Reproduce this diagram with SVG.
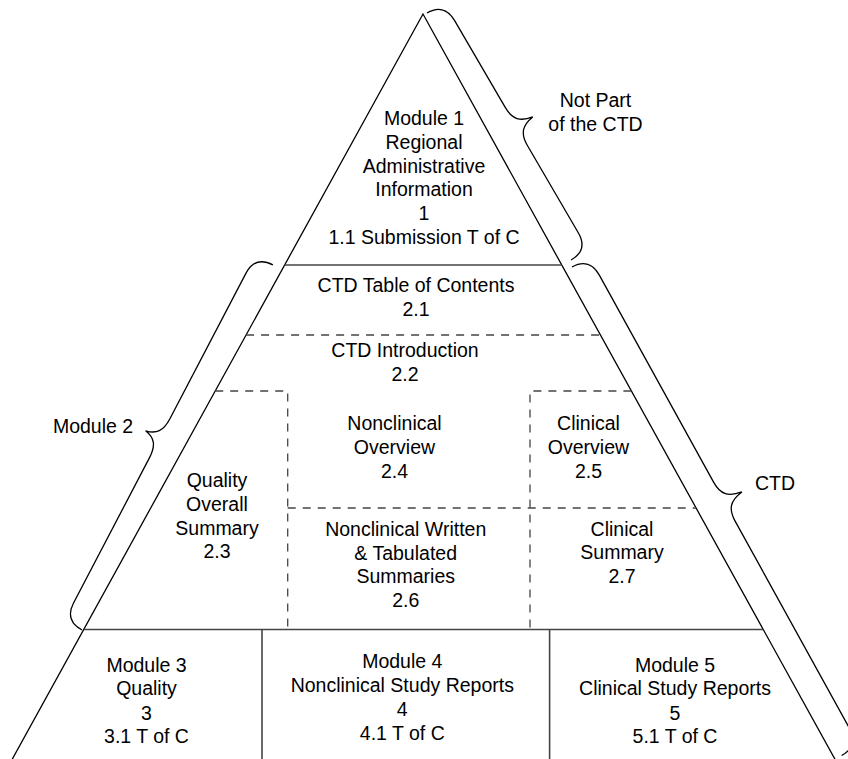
<svg xmlns="http://www.w3.org/2000/svg" width="848" height="759" viewBox="0 0 848 759">
<style>
text{font-family:"Liberation Sans",Arial,Helvetica,sans-serif;font-size:19.5px;fill:#000;text-anchor:middle}
.edge{fill:none;stroke:#000;stroke-width:1.3}
.solid{fill:none;stroke:#444;stroke-width:1.6}
.dash{fill:none;stroke:#444;stroke-width:1.3;stroke-dasharray:8 7}
.brace{fill:none;stroke:#000;stroke-width:1.3}
</style>
<rect width="848" height="759" fill="#fff"/>
<g id="connectors">
<path class="edge" d="M11.8,760 L423,14 L835.4,760"/>
<line class="solid" x1="284.6" y1="265" x2="561.8" y2="265"/>
<line class="dash" x1="246.1" y1="335" x2="600.4" y2="335"/>
<polyline class="dash" points="215.2,391 287.7,391 287.7,629"/>
<polyline class="dash" points="631.4,391 530,391 530,629"/>
<line class="dash" x1="287.7" y1="508" x2="696" y2="508"/>
<line class="solid" x1="84" y1="629.5" x2="763" y2="629.5"/>
<line class="solid" x1="262" y1="629.5" x2="262" y2="760"/>
<line class="solid" x1="549.6" y1="629.5" x2="549.6" y2="760"/>
<path class="brace" transform="translate(427,13) rotate(59.75)" d="M0,0 C0,-12 6,-20 20,-20 L121,-20 C135,-20 141,-26 143,-39 C145,-26 151,-20 165,-20 L266,-20 C280,-20 286,-12 286,0"/>
<path class="brace" transform="translate(82,630) rotate(-62.4)" d="M0,0 C0,-12 6,-20 20,-20 L184,-20 C198,-20 204,-25 206,-36 C208,-25 214,-20 228,-20 L392,-20 C406,-20 412,-12 412,0"/>
<path class="brace" transform="translate(572,267) rotate(61.1)" d="M0,0 C0,-12 6,-20 20,-20 L257,-20 C271,-20 277,-26 279,-40 C281,-26 287,-20 301,-20 L538,-20 C552,-20 558,-12 558,0"/>
</g>
<g id="module1">
<text x="424" y="125">Module 1</text>
<text x="424" y="148.8">Regional</text>
<text x="424" y="172.6">Administrative</text>
<text x="424" y="196.4">Information</text>
<text x="424" y="220.2">1</text>
<text x="424" y="244">1.1 Submission T of C</text>
</g>
<g id="not-part-label">
<text x="595.5" y="107.3">Not Part</text>
<text x="595.5" y="130.7">of the CTD</text>
</g>
<g id="ctd-toc">
<text x="416" y="291.7">CTD Table of Contents</text>
<text x="416" y="316">2.1</text>
</g>
<g id="ctd-intro">
<text x="405" y="357.3">CTD Introduction</text>
<text x="405" y="381">2.2</text>
</g>
<g id="module2-label">
<text x="93" y="433.3">Module 2</text>
</g>
<g id="ctd-label">
<text x="775" y="490">CTD</text>
</g>
<g id="quality-summary">
<text x="217" y="486.7">Quality</text>
<text x="217" y="510.7">Overall</text>
<text x="217" y="535">Summary</text>
<text x="217" y="558">2.3</text>
</g>
<g id="nonclinical-overview">
<text x="394.5" y="430">Nonclinical</text>
<text x="394.5" y="454">Overview</text>
<text x="394.5" y="478.3">2.4</text>
</g>
<g id="clinical-overview">
<text x="588.5" y="430">Clinical</text>
<text x="588.5" y="454">Overview</text>
<text x="588.5" y="478.3">2.5</text>
</g>
<g id="nonclinical-summaries">
<text x="405.7" y="536">Nonclinical Written</text>
<text x="405.7" y="560">&amp; Tabulated</text>
<text x="405.7" y="582.7">Summaries</text>
<text x="405.7" y="606.7">2.6</text>
</g>
<g id="clinical-summary">
<text x="622" y="535.5">Clinical</text>
<text x="622" y="558.5">Summary</text>
<text x="622" y="582.7">2.7</text>
</g>
<g id="module3">
<text x="146.5" y="671.7">Module 3</text>
<text x="146.5" y="695">Quality</text>
<text x="146.5" y="720">3</text>
<text x="146.5" y="743.3">3.1 T of C</text>
</g>
<g id="module4">
<text x="402.3" y="668.3">Module 4</text>
<text x="402.3" y="692.3">Nonclinical Study Reports</text>
<text x="402.3" y="716">4</text>
<text x="402.3" y="740">4.1 T of C</text>
</g>
<g id="module5">
<text x="675" y="671.7">Module 5</text>
<text x="675" y="695">Clinical Study Reports</text>
<text x="675" y="720">5</text>
<text x="675" y="743.3">5.1 T of C</text>
</g>
</svg>
